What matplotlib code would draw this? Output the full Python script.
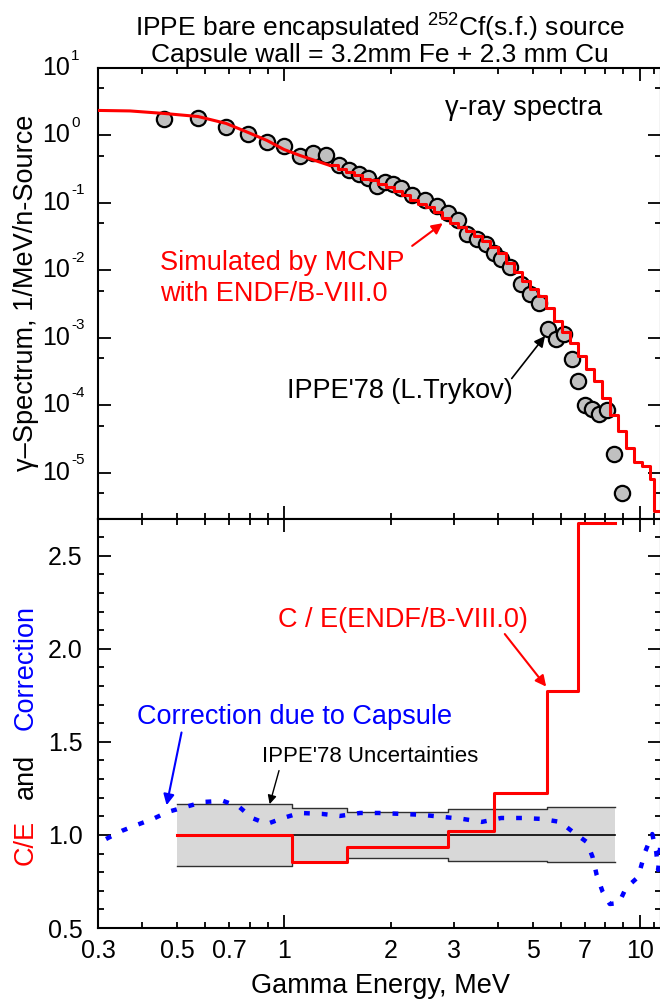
import numpy as np
import matplotlib
matplotlib.use("Agg")
import matplotlib.pyplot as plt
import matplotlib.transforms as mtransforms
from matplotlib.ticker import LogLocator, NullFormatter, MultipleLocator, FormatStrFormatter

plt.rcParams['font.family'] = ['Liberation Sans', 'DejaVu Sans']
plt.rcParams['mathtext.fontset'] = 'custom'
plt.rcParams['mathtext.rm'] = 'Liberation Sans'
plt.rcParams['mathtext.it'] = 'Liberation Sans:italic'

# ---------------- data ----------------
# IPPE'78 (L.Trykov) measured gamma spectrum
exp_e = [0.460, 0.573, 0.687, 0.792, 0.896, 1.000, 1.109, 1.207, 1.312, 1.427,
         1.523, 1.625, 1.723, 1.826, 1.923, 2.026, 2.133, 2.289, 2.493, 2.694,
         2.892, 3.085, 3.27, 3.49, 3.70, 3.89, 4.08, 4.32, 4.64, 4.92,
         5.21, 5.52, 5.82, 6.13, 6.45, 6.71, 7.02, 7.35, 7.69, 8.09,
         8.47, 8.92]
exp_s = [1.73, 1.79, 1.32, 1.04, 0.787, 0.687, 0.488, 0.541, 0.505, 0.359,
         0.303, 0.273, 0.238, 0.181, 0.201, 0.194, 0.164, 0.133, 0.112, 0.0915,
         0.0721, 0.0567, 0.0352, 0.0296, 0.0250, 0.0178, 0.0150, 0.0114, 0.00637, 0.00453,
         0.00333, 0.00137, 0.000973, 0.00115, 0.000491, 0.000232, 0.000102, 8.9e-5, 7.5e-5, 8.6e-5,
         1.91e-5, 5.05e-6]

# MCNP simulation, smooth low-energy part
mcnp_lo_e = [0.300, 0.369, 0.460, 0.573, 0.687, 0.792, 0.896, 1.000, 1.109, 1.222, 1.347]
mcnp_lo_s = [2.35, 2.31, 2.12, 1.91, 1.51, 1.11, 0.843, 0.620, 0.505, 0.426, 0.359]

# MCNP simulation, histogram part (bin edges / values)
mcnp_edges = [1.347, 1.419, 1.494, 1.573, 1.657, 1.745, 1.838, 1.936, 2.039, 2.147,
              2.261, 2.382, 2.508, 2.642, 2.782, 2.930, 3.086, 3.250, 3.423, 3.605,
              3.797, 3.999, 4.212, 4.436, 4.672, 4.920, 5.182, 5.458, 5.748, 6.054,
              6.376, 6.715, 7.072, 7.449, 7.845, 8.262, 8.702, 9.165, 9.652, 10.17,
              10.71, 10.97, 11.41]
mcnp_vals = [0.359, 0.318, 0.287, 0.255, 0.230, 0.215, 0.194, 0.172, 0.148, 0.129,
             0.112, 0.098, 0.0869, 0.0733, 0.0607, 0.0512, 0.0446, 0.0383, 0.0328, 0.0272,
             0.0222, 0.0178, 0.0130, 0.0096, 0.00706, 0.00528, 0.00423, 0.00281, 0.00180, 0.00124,
             0.000834, 0.000544, 0.000349, 0.000232, 0.000130, 7.26e-5, 4.20e-5, 2.35e-5, 1.46e-5, 1.27e-5,
             8.15e-6, 2.73e-6]

# IPPE'78 uncertainty bins
unc_edges = [0.5, 1.05, 1.5, 2.9, 5.5, 8.5]
unc_rel = [0.167, 0.145, 0.125, 0.138, 0.148]

# C/E ratio bins
ce_edges = [0.5, 1.05, 1.5, 2.9, 3.9, 5.5, 6.7, 8.5]
ce_vals = [1.0, 0.855, 0.935, 1.02, 1.226, 1.774, 2.677]

# Correction due to capsule
corr_e = [0.316, 0.350, 0.386, 0.428, 0.472, 0.530, 0.592, 0.674, 0.748, 0.813,
          0.896, 0.994, 1.109, 1.279, 1.436, 1.636, 1.849, 2.133, 2.444, 2.786,
          3.18, 3.60, 4.08, 4.67, 5.30, 5.97, 6.49, 7.10, 7.37, 7.57,
          7.87, 8.24, 8.74, 9.15, 9.90, 10.36, 10.85, 11.13, 11.27, 11.5]
corr_v = [0.978, 1.022, 1.054, 1.086, 1.124, 1.151, 1.177, 1.183, 1.151, 1.091,
          1.059, 1.091, 1.118, 1.113, 1.102, 1.118, 1.118, 1.113, 1.108, 1.097,
          1.086, 1.070, 1.091, 1.091, 1.086, 1.070, 1.016, 0.962, 0.882, 0.785,
          0.694, 0.629, 0.634, 0.715, 0.774, 0.909, 1.005, 0.909, 0.812, 1.0]

decades = [1, 0, -1, -2, -3, -4, -5]

XMIN, XMAX = 0.3, 11.48
RED = "#ff0000"
BLUE = "#0000ff"

W, H = 660, 1002
fig = plt.figure(figsize=(W / 100, H / 100), dpi=100)
left = 98 / W
width = 563 / W
split = 1 - 518.5 / H
ax1 = fig.add_axes([left, split, width, (518.5 - 68) / H])
ax2 = fig.add_axes([left, 1 - 928 / H, width, (928 - 518.5) / H])


def style_axis(ax):
    for sp in ax.spines.values():
        sp.set_linewidth(1.5)
    ax.set_xscale("log")
    ax.set_xlim(XMIN, XMAX)
    ax.xaxis.set_major_locator(plt.FixedLocator([1, 10]))
    ax.xaxis.set_minor_locator(plt.FixedLocator(
        [0.4, 0.5, 0.6, 0.7, 0.8, 0.9, 2, 3, 4, 5, 6, 7, 8, 9, 11]))
    ax.tick_params(which="both", direction="in", top=True, right=True,
                   labelsize=18, width=1.3)
    ax.tick_params(which="major", length=9.5)
    ax.tick_params(which="minor", length=4.5)
    ax.tick_params(axis="y", which="both", pad=11)
    ax.tick_params(axis="x", which="both", pad=8)


# ---------------- top panel ----------------
style_axis(ax1)
ax1.set_yscale("log")
ax1.set_ylim(2.1e-6, 10)
ax1.yaxis.set_major_locator(LogLocator(base=10, numticks=20))
ax1.yaxis.set_minor_locator(LogLocator(base=10, subs=(5,), numticks=20))
ax1.yaxis.set_major_formatter(NullFormatter())
ax1.yaxis.set_minor_formatter(NullFormatter())
ax1.xaxis.set_major_formatter(NullFormatter())
ax1.xaxis.set_minor_formatter(NullFormatter())

# decade labels drawn as "10" with a hyphenated superscript
ytrans = mtransforms.blended_transform_factory(fig.transFigure, ax1.transData)
for n in decades:
    ax1.text(70 / W, 10.0 ** n, "10", transform=ytrans, fontsize=18,
             ha="right", va="center")
    sup = mtransforms.offset_copy(ytrans, fig=fig, x=0, y=9, units="points")
    ax1.text(71 / W, 10.0 ** n, str(n), transform=sup, fontsize=11,
             ha="left", va="center")

ax1.plot(exp_e, exp_s, "o", ms=11, mfc="#c0c0c0", mec="black", mew=1.6, zorder=3)
ax1.plot(mcnp_lo_e, mcnp_lo_s, color=RED, lw=2.2, zorder=4)
ax1.plot(mcnp_edges, mcnp_vals + [mcnp_vals[-1]], color=RED, lw=2.2,
         drawstyle="steps-post", zorder=4)

ax1.text(2.835, 2.52, "γ-ray spectra", fontsize=19.5, ha="left", va="center")
ax1.text(0.448, 0.01305, "Simulated by MCNP", color=RED, fontsize=19.5, ha="left", va="center")
ax1.text(0.448, 0.00453, "with ENDF/B-VIII.0", color=RED, fontsize=19.5, ha="left", va="center")
ax1.annotate("", xy=(2.835, 0.053), xytext=(2.26, 0.0218),
             arrowprops=dict(arrowstyle="-|>", color=RED, lw=1.5, mutation_scale=16))
ax1.text(1.02, 1.65e-4, "IPPE'78 (L.Trykov)", fontsize=19.5, ha="left", va="center")
ax1.annotate("", xy=(5.48, 1.15e-3), xytext=(4.32, 2.32e-4),
             arrowprops=dict(arrowstyle="-|>", color="black", lw=1.2, mutation_scale=16))

# ---------------- bottom panel ----------------
style_axis(ax2)
ax2.set_ylim(0.5, 2.7)
ax2.yaxis.set_major_locator(MultipleLocator(0.5))
ax2.yaxis.set_minor_locator(MultipleLocator(0.1))
ax2.yaxis.set_major_formatter(FormatStrFormatter("%.1f"))
ax2.xaxis.set_major_formatter(plt.FixedFormatter(["1", "10"]))
ax2.set_xticks([0.3, 0.4, 0.5, 0.6, 0.7, 0.8, 0.9, 2, 3, 4, 5, 6, 7, 8, 9, 11],
               ["0.3", "", "0.5", "", "0.7", "", "", "2", "3", "", "5", "", "7", "", "", ""],
               minor=True)
ax2.set_xlim(XMIN, XMAX)

upper = [1 + r for r in unc_rel]
lower = [1 - r for r in unc_rel]
ax2.fill_between(unc_edges, lower + [lower[-1]], upper + [upper[-1]], step="post",
                 color="#d8d8d8", lw=0, zorder=1)
ax2.plot(unc_edges, upper + [upper[-1]], drawstyle="steps-post", color="#303030", lw=1.0, zorder=2)
ax2.plot(unc_edges, lower + [lower[-1]], drawstyle="steps-post", color="#303030", lw=1.0, zorder=2)
ax2.plot([unc_edges[0], unc_edges[-1]], [1.0, 1.0], color="black", lw=1.2, zorder=2)

ax2.plot(ce_edges, ce_vals + [ce_vals[-1]], drawstyle="steps-post", color=RED, lw=2.2, zorder=3)
ax2.plot(corr_e, corr_v, color=BLUE, lw=3.2, linestyle=(0, (1.3, 2.7)),
         dash_capstyle="butt", zorder=4)

ax2.text(0.962, 2.156, "C / E(ENDF/B-VIII.0)", color=RED, fontsize=19.5, ha="left", va="center")
ax2.annotate("", xy=(5.52, 1.785), xytext=(4.13, 2.091),
             arrowprops=dict(arrowstyle="-|>", color=RED, lw=1.5, mutation_scale=16))
ax2.text(0.386, 1.634, "Correction due to Capsule", color=BLUE, fontsize=19.5,
         ha="left", va="center")
ax2.annotate("", xy=(0.466, 1.145), xytext=(0.517, 1.565),
             arrowprops=dict(arrowstyle="-|>", color=BLUE, lw=1.5, mutation_scale=16))
ax2.text(0.867, 1.419, "IPPE'78 Uncertainties", fontsize=16, ha="left", va="center")
ax2.annotate("", xy=(0.907, 1.151), xytext=(0.973, 1.36),
             arrowprops=dict(arrowstyle="-|>", color="black", lw=1.0, mutation_scale=13))

# ---------------- labels ----------------
fig.text(380 / W, 1 - 28 / H, r"IPPE bare encapsulated $^{252}$Cf(s.f.) source",
         fontsize=19, ha="center", va="center")
fig.text(380 / W, 1 - 55 / H, "Capsule wall = 3.2mm Fe + 2.3 mm Cu",
         fontsize=19, ha="center", va="center")
fig.text(26 / W, 1 - 293 / H, "γ–Spectrum, 1/MeV/n-Source", rotation=90,
         fontsize=19.5, ha="center", va="center")
fig.text(26 / W, 1 - 842 / H, "C/E", color=RED, rotation=90, fontsize=19.5,
         ha="center", va="center")
fig.text(26 / W, 1 - 776 / H, "and", color="black", rotation=90, fontsize=19.5,
         ha="center", va="center")
fig.text(26 / W, 1 - 668 / H, "Correction", color=BLUE, rotation=90, fontsize=19.5,
         ha="center", va="center")
fig.text(380 / W, 1 - 986 / H, "Gamma Energy, MeV", fontsize=19.5, ha="center", va="center")

fig.savefig("out.png", dpi=100)
